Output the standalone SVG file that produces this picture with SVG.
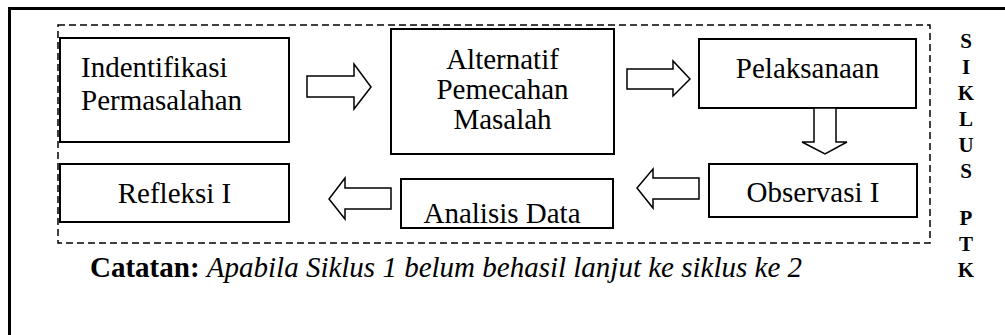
<svg xmlns="http://www.w3.org/2000/svg" width="1005" height="335" viewBox="0 0 1005 335">
<style>
.box{fill:#fff;stroke:#000;stroke-width:2}
.arr{fill:#fff;stroke:#000;stroke-width:1.5;stroke-linejoin:miter}
.t{font-size:29px;fill:#000}
.v{font-size:21px;font-weight:bold;fill:#000;text-anchor:middle}
.note{font-size:29px;fill:#000}
</style>
<rect width="1005" height="335" fill="#fff"/>
<polyline points="9.5,335 9.5,8.5 1005,8.5" fill="none" stroke="#000" stroke-width="3"/>
<rect x="58" y="25" width="872" height="218" fill="none" stroke="#000" stroke-width="1.5" stroke-dasharray="7 4"/>
<g font-family="'Liberation Serif', 'DejaVu Serif', serif">
<g id="n1"><rect class="box" x="60" y="38" width="229" height="104"/>
<text class="t" x="81" y="77">Indentifikasi</text><text class="t" x="81" y="110">Permasalahan</text></g>
<g id="n2"><rect class="box" x="391" y="29" width="223" height="125"/>
<text class="t" x="502.5" y="69" text-anchor="middle">Alternatif</text><text class="t" x="502.5" y="99" text-anchor="middle">Pemecahan</text><text class="t" x="502.5" y="129" text-anchor="middle">Masalah</text></g>
<g id="n3"><rect class="box" x="699" y="39" width="217" height="69"/>
<text class="t" x="807.5" y="78" text-anchor="middle">Pelaksanaan</text></g>
<g id="n4"><rect class="box" x="709" y="164" width="208" height="53"/>
<text class="t" x="813" y="202" text-anchor="middle">Observasi I</text></g>
<g id="n5"><rect class="box" x="401" y="179" width="212" height="49"/>
<text class="t" x="502" y="223" text-anchor="middle">Analisis Data</text></g>
<g id="n6"><rect class="box" x="60" y="164" width="229" height="58"/>
<text class="t" x="174.5" y="203" text-anchor="middle">Refleksi I</text></g>
<g id="connectors">
<polygon class="arr" points="307,76 354,76 354,64 371,87 354,109 354,97 307,97"/>
<polygon class="arr" points="627,69 673,69 673,61 690,79 673,96 673,89 627,89"/>
<polygon class="arr" points="814,108 836,108 836,142 847,142 825,154 802,142 814,142"/>
<polygon class="arr" points="699,178 653,178 653,169 637,188 653,208 653,199 699,199"/>
<polygon class="arr" points="391,188 345,188 345,178 329,199 345,219 345,209 391,209"/>
</g>
<g id="side">
<text class="v" x="966" y="48">S</text><text class="v" x="966" y="74">I</text><text class="v" x="966" y="100">K</text><text class="v" x="966" y="126">L</text><text class="v" x="966" y="152">U</text><text class="v" x="966" y="178">S</text><text class="v" x="966" y="225">P</text><text class="v" x="966" y="251">T</text><text class="v" x="966" y="277">K</text>
</g>
<text class="note" x="90" y="277"><tspan font-weight="bold">Catatan:</tspan> <tspan font-style="italic">Apabila Siklus 1 belum behasil lanjut ke siklus ke 2</tspan></text>
</g>
</svg>
